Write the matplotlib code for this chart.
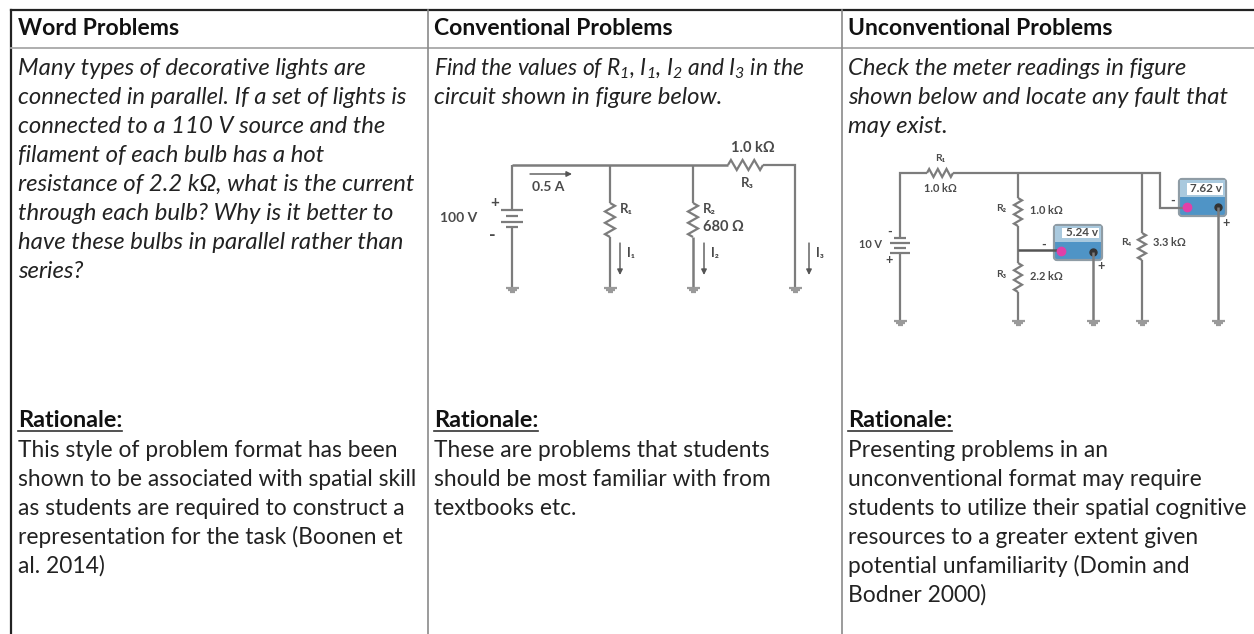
import matplotlib
matplotlib.use("Agg")
import matplotlib.pyplot as plt
from matplotlib.patches import FancyBboxPatch

plt.rcParams['font.family'] = ['Lato', 'DejaVu Sans']
plt.rcParams['mathtext.fontset'] = 'custom'
plt.rcParams['mathtext.rm'] = 'Lato:italic'
plt.rcParams['mathtext.it'] = 'Lato:italic'

headers = ["Word Problems", "Conventional Problems", "Unconventional Problems"]
col_text_x = [18, 434, 848]
problems = [
    ["Many types of decorative lights are",
     "connected in parallel. If a set of lights is",
     "connected to a 110 V source and the",
     "filament of each bulb has a hot",
     "resistance of 2.2 kΩ, what is the current",
     "through each bulb? Why is it better to",
     "have these bulbs in parallel rather than",
     "series?"],
    ["Find the values of $R_1$, $I_1$, $I_2$ and $I_3$ in the",
     "circuit shown in figure below."],
    ["Check the meter readings in figure",
     "shown below and locate any fault that",
     "may exist."],
]
rationales = [
    ["This style of problem format has been",
     "shown to be associated with spatial skill",
     "as students are required to construct a",
     "representation for the task (Boonen et",
     "al. 2014)"],
    ["These are problems that students",
     "should be most familiar with from",
     "textbooks etc."],
    ["Presenting problems in an",
     "unconventional format may require",
     "students to utilize their spatial cognitive",
     "resources to a greater extent given",
     "potential unfamiliarity (Domin and",
     "Bodner 2000)"],
]

TXT = "#222222"
WIRE = "#7c7c7c"
LBL = "#4a4a4a"

fig = plt.figure(figsize=(12.54, 6.34), dpi=100)
ax = fig.add_axes([0, 0, 1, 1])
ax.set_xlim(0, 1254)
ax.set_ylim(634, 0)
ax.axis("off")


def wire(xs, ys, c=WIRE, lw=1.6):
    ax.plot(xs, ys, color=c, lw=lw, solid_capstyle="butt", solid_joinstyle="miter")


def zig_v(x, y0, y1, w=5, n=6):
    xs, ys = [x], [y0]
    for i in range(n):
        xs.append(x + (w if i % 2 == 0 else -w))
        ys.append(y0 + (y1 - y0) * (i + 0.5) / n)
    xs.append(x)
    ys.append(y1)
    wire(xs, ys)


def zig_h(x0, x1, y, h=5, n=6):
    xs, ys = [x0], [y]
    for i in range(n):
        xs.append(x0 + (x1 - x0) * (i + 0.5) / n)
        ys.append(y + (-h if i % 2 == 0 else h))
    xs.append(x1)
    ys.append(y)
    wire(xs, ys)


def ground(x, y):
    wire([x - 6.5, x + 6.5], [y + 0.5, y + 0.5], c="#9a9a9a", lw=1.6)
    wire([x - 4.5, x + 4.5], [y + 2.5, y + 2.5], c="#9a9a9a", lw=1.6)
    wire([x - 2.5, x + 2.5], [y + 4.5, y + 4.5], c="#9a9a9a", lw=1.6)


def arrow(x0, y0, x1, y1):
    ax.annotate("", xy=(x1, y1), xytext=(x0, y0),
                arrowprops=dict(arrowstyle="-|>", color="#555555", lw=1, mutation_scale=8,
                                shrinkA=0, shrinkB=0))


def label(x, y, s, size=10, ha="left"):
    ax.text(x, y, s, fontsize=size, fontweight="bold", color=LBL, ha=ha, va="center")


def meter(x0, x1, y0, y1, disp, reading):
    ax.add_patch(FancyBboxPatch((x0, y0), x1 - x0, y1 - y0, boxstyle="round,pad=0,rounding_size=3",
                                fc="#4f94c6", ec="#8f9ca5", lw=1.6))
    ax.add_patch(plt.Rectangle((x0 + 1, y0 + 1), x1 - x0 - 2, (y1 - y0) * 0.45, fc="#a9c9de", ec="none"))
    ax.add_patch(plt.Rectangle((disp[0], disp[2]), disp[1] - disp[0], disp[3] - disp[2],
                               fc="white", ec="none"))
    ax.text(disp[1] - 1, (disp[2] + disp[3]) / 2, reading, fontsize=8.4, fontweight="bold",
            color=LBL, ha="right", va="center")


# table lines
ax.plot([11, 1254], [10, 10], color="#222222", lw=1.6)
ax.plot([11, 11], [10, 634], color="#222222", lw=1.6)
ax.plot([11, 1254], [48, 48], color="#a8a8a8", lw=1.3)
ax.plot([428, 428], [10, 634], color="#8a8a8a", lw=1.2)
ax.plot([842, 842], [10, 634], color="#8a8a8a", lw=1.2)

# text columns
for i, x in enumerate(col_text_x):
    ax.text(x, 35, headers[i], fontsize=16.6, fontweight="bold", color="#111111", va="baseline")
    for j, line in enumerate(problems[i]):
        size = 16.4 if "$" in line else 17.2
        ax.text(x, 75 + j * 29, line, fontsize=size, style="italic", color=TXT, va="baseline")
    ax.text(x, 427, "Rationale:", fontsize=16.8, fontweight="bold", color="#111111", va="baseline")
    ax.plot([x, x + 104], [431, 431], color="#333333", lw=1.2)
    for j, line in enumerate(rationales[i]):
        ax.text(x, 457 + j * 29, line, fontsize=16.4, color=TXT, va="baseline")

# middle circuit
wire([512, 512], [210, 165])
wire([512, 728], [165, 165], lw=1.8)
zig_h(728, 763, 165)
wire([763, 795, 795], [165, 165, 285])
wire([512, 512], [228, 287])
wire([501, 523], [210, 210])
wire([506, 518], [216, 216])
wire([501, 523], [222, 222])
wire([506, 518], [227, 227])
wire([610, 610], [165, 203])
zig_v(610, 203, 237)
wire([610, 610], [237, 287])
wire([693, 693], [165, 203])
zig_v(693, 203, 237)
wire([693, 693], [237, 287], lw=1.8)
wire([795, 795], [285, 287])
for x in [512, 610, 693, 795]:
    ground(x, 287)
arrow(530, 174, 572, 174)
arrow(620, 243, 620, 275)
arrow(704, 243, 704, 275)
arrow(809, 243, 809, 275)
label(532, 187, "0.5 A", 10)
label(440, 218, "100 V", 10)
label(490, 203, "+", 11)
label(489, 235, "-", 13)
label(753, 148, "1.0 kΩ", 10.5, "center")
label(747, 183, "R₃", 9.5, "center")
label(620, 209, "R₁", 9.5)
label(703, 209, "R₂", 9.5)
label(703, 227, "680 Ω", 10.5)
label(627, 253, "I₁", 9)
label(711, 253, "I₂", 9)
label(816, 253, "I₃", 9)

# right circuit
wire([900, 900, 927], [238, 173, 173])
zig_h(927, 953, 173, h=4)
wire([953, 1160, 1160, 1186], [173, 173, 208, 208])
wire([900, 900], [253, 320])
wire([894, 906], [238, 238])
wire([890, 910], [243, 243])
wire([894, 906], [248, 248])
wire([890, 910], [253, 253])
wire([1018, 1018], [173, 198])
zig_v(1018, 198, 226, w=4)
wire([1018, 1018], [226, 263])
zig_v(1018, 263, 292, w=4)
wire([1018, 1018], [292, 320])
wire([1018, 1058], [250, 250], c="#555555", lw=1.8)
wire([1142, 1142], [173, 233])
zig_v(1142, 233, 260, w=4)
wire([1142, 1142], [260, 320])
meter(1054, 1102, 225, 260, (1062, 1099, 228, 238), "5.24 v")
meter(1179, 1226, 179, 216, (1187, 1223, 183, 195), "7.62 v")
ax.plot([1061], [251], "o", color="#e040a8", ms=6)
ax.plot([1187], [207], "o", color="#e040a8", ms=6)
ax.plot([1093], [252], "o", color="#333333", ms=5)
ax.plot([1218], [207], "o", color="#333333", ms=5)
wire([1093, 1093], [252, 320], lw=1.8)
wire([1218, 1218], [207, 320], lw=1.8)
for x in [900, 1018, 1093, 1142, 1218]:
    ground(x, 320)
label(940, 159, "R₁", 7.5, "center")
label(940, 188, "1.0 kΩ", 7.9, "center")
label(859, 244, "10 V", 7.9)
label(887, 232, "-", 9)
label(885, 260, "+", 9)
label(996, 209, "R₂", 7.5)
label(1030, 210, "1.0 kΩ", 7.9)
label(996, 275, "R₃", 7.5)
label(1030, 276, "2.2 kΩ", 7.9)
label(1121, 243, "R₄", 7.5)
label(1153, 243, "3.3 kΩ", 7.9)
label(1041, 245, "-", 9)
label(1097, 266, "+", 9)
label(1170, 201, "-", 9)
label(1222, 223, "+", 9)

fig.savefig("out.png", dpi=100)
